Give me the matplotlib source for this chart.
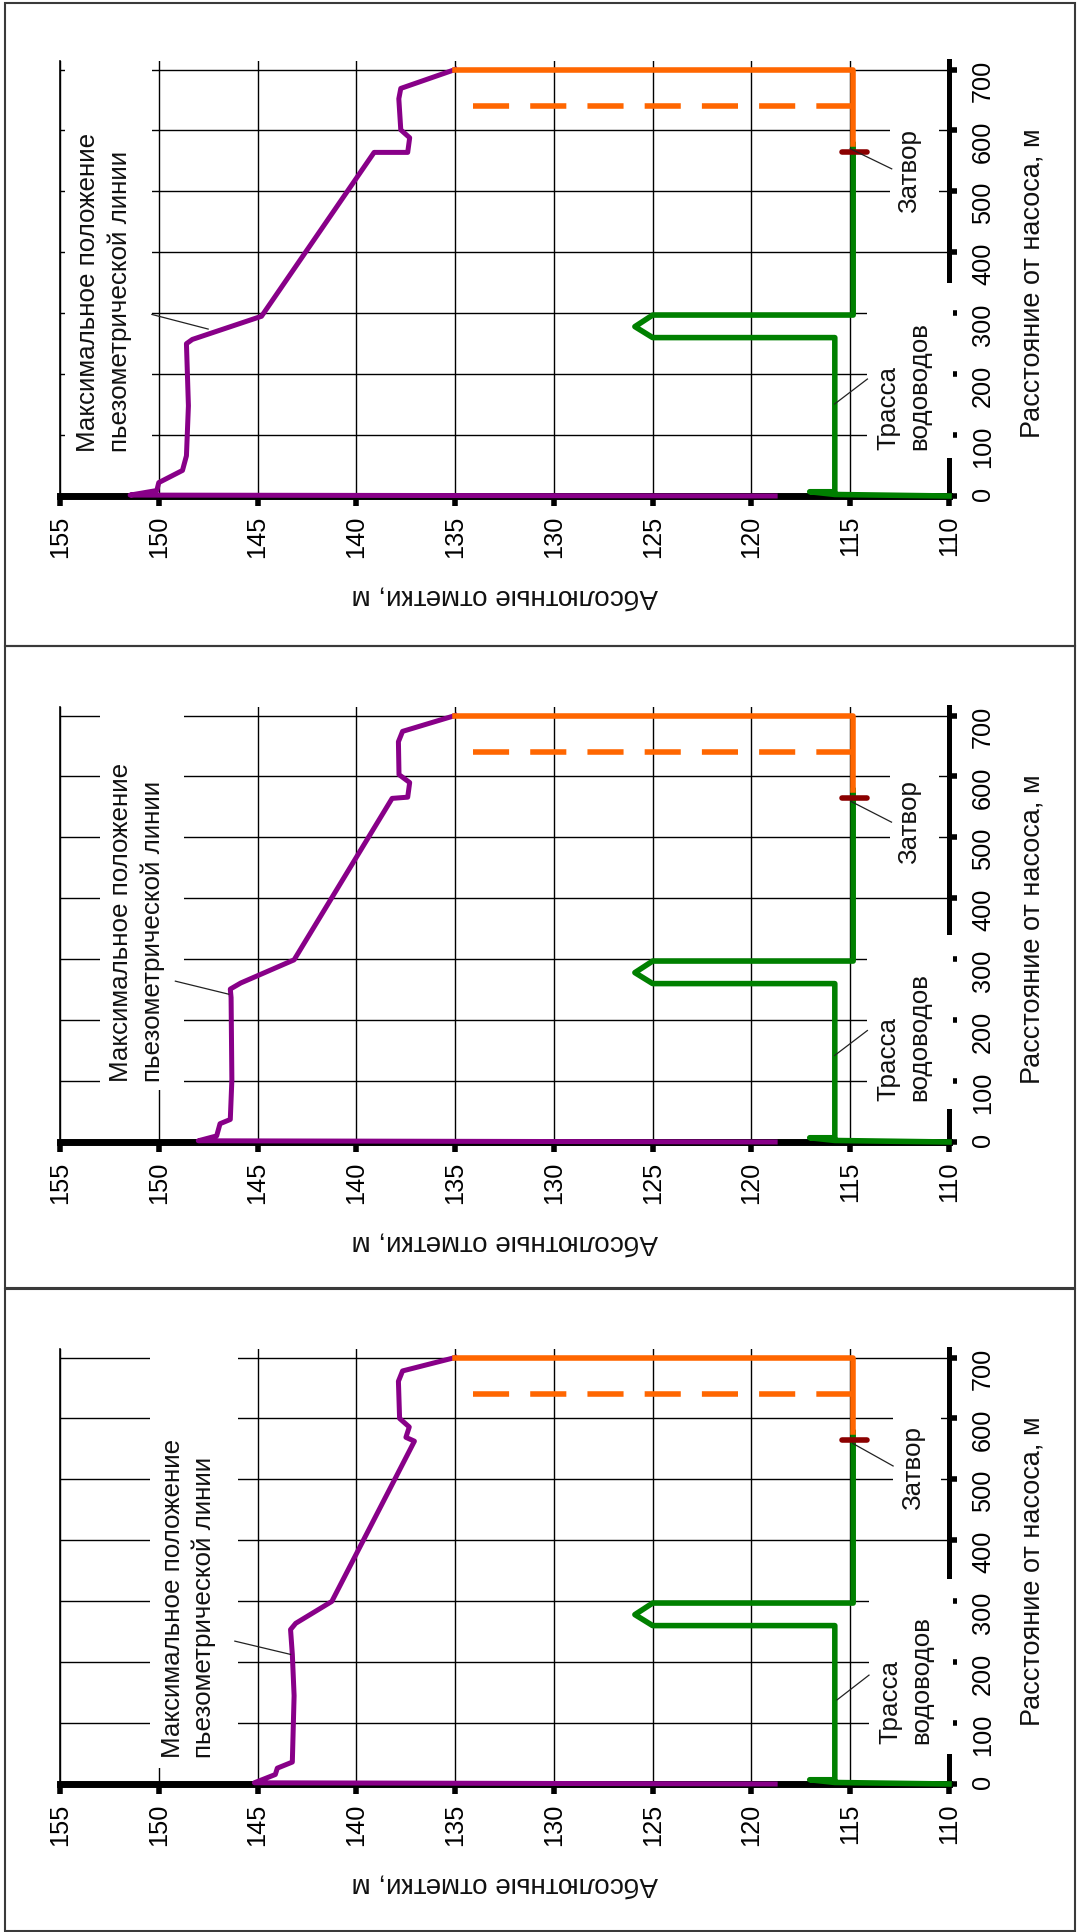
import matplotlib
matplotlib.use("Agg")
import matplotlib.pyplot as plt
from matplotlib.patches import Rectangle

plt.rcParams['font.family'] = ['Liberation Sans', 'DejaVu Sans']

# ---------------- data ----------------
elev_ticks = [155, 150, 145, 140, 135, 130, 125, 120, 115, 110]
dist_ticks = [0, 100, 200, 300, 400, 500, 600, 700]

# piezometric line (max position) for the three cases: distance (m), elevation (m)
piezo_dist_1 = [0, 1.5, 9, 22, 42, 66, 148, 250, 257, 295, 564, 564, 588, 601, 652, 669, 700]
piezo_elev_1 = [118.8, 151.45, 150.1, 150.0, 148.8, 148.6, 148.5, 148.6, 148.3, 144.8,
                139.1, 137.4, 137.3, 137.75, 137.85, 137.75, 135.0]

piezo_dist_2 = [0, 2, 10, 30, 37, 102, 237, 251, 261, 299, 564, 566, 590, 603, 657, 674, 700]
piezo_elev_2 = [118.8, 148.0, 147.07, 146.9, 146.38, 146.3, 146.34, 146.38, 145.85, 143.15,
                138.19, 137.4, 137.3, 137.84, 137.87, 137.66, 135.0]

piezo_dist_3 = [0, 2, 15.6, 26, 36, 145, 213, 253.5, 263.7, 299.7, 562.7, 569, 586, 600, 661, 678, 700]
piezo_elev_3 = [118.8, 145.16, 144.1, 144.0, 143.24, 143.15, 143.24, 143.33, 143.07, 141.24,
                137.06, 137.49, 137.32, 137.81, 137.87, 137.66, 135.0]

# pipeline route
route_dist = [0, 2.5, 7, 7, 260, 260, 278, 297, 297, 577]
route_elev = [110.0, 115.78, 117.05, 115.78, 115.78, 125.0, 125.9, 125.0, 114.85, 114.85]

# terminal section / reservoir (orange)
tank_dist = [577, 700, 700]
tank_elev = [114.85, 114.85, 135.0]
tank_dash_dist = [640, 640]
tank_dash_elev = [134.1, 114.85]

# gate
gate_dist = [565, 565]
gate_elev = [115.4, 114.15]

PURPLE = '#880088'
GREEN = '#008000'
ORANGE = '#FF6600'
GATE = '#8B0000'
TXT = '#111111'

W, H = 1080, 1932
fig = plt.figure(figsize=(W / 100, H / 100), dpi=100)

panels = [
    dict(pd=piezo_dist_1, pe=piezo_elev_1, top=3, bot=646, axb=496,
         lbox=(154.75, 150.35, 45, 714), ptxt=(152.77, 72), plead=((150.35, 298), (147.5, 274)),
         tbox=(114.15, 109.8, 62, 349), ttxt=(112.3, 76), tlead=((114.13, 192), (115.79, 151)),
         gbox=(113.0, 110.5, 450, 635), gtxt=(112.0, 465), glead=((112.9, 537), (115.0, 570))),
    dict(pd=piezo_dist_2, pe=piezo_elev_2, top=646, bot=1288, axb=1142,
         lbox=(153.0, 148.7, 85, 714), ptxt=(151.1, 98), plead=((149.16, 264), (146.46, 242.6)),
         tbox=(114.15, 109.8, 54, 339), ttxt=(112.3, 68), tlead=((114.13, 183), (115.79, 142)),
         gbox=(113.0, 110.5, 450, 635), gtxt=(112.0, 457), glead=((112.91, 525), (114.96, 559))),
    dict(pd=piezo_dist_3, pe=piezo_elev_3, top=1289, bot=1931, axb=1784,
         lbox=(150.42, 146.0, 26, 714), ptxt=(148.5, 42), plead=((146.15, 234.5), (143.33, 212.7)),
         tbox=(114.05, 109.8, 50, 336), ttxt=(112.2, 66), tlead=((114.05, 178.7), (115.67, 138)),
         gbox=(112.82, 110.4, 450, 635), gtxt=(111.8, 450), glead=((112.83, 522), (114.87, 559))),
]

AX_H = 435
ANN_FS = 18.7
for p in panels:
    # panel frame
    fig.add_artist(Rectangle((5 / W, 1 - p['bot'] / H), 1070 / W, (p['bot'] - p['top']) / H,
                             transform=fig.transFigure, fill=False, ec='#3a3a3a', lw=1.5))
    ax = fig.add_axes([60 / W, 1 - p['axb'] / H, 889 / W, AX_H / H])
    ax.set_xlim(155, 110)
    ax.set_ylim(0, 714)
    ax.set_xticks(elev_ticks)
    ax.set_yticks(dist_ticks)
    ax.yaxis.tick_right()
    ax.set_axisbelow(True)
    ax.grid(True, color='black', lw=1.0)
    ax.tick_params(axis='x', labelrotation=90, direction='out', length=7, width=4,
                   pad=7, labelsize=18.3, colors='black')
    ax.tick_params(axis='y', labelrotation=90, direction='out', length=6, width=4,
                   pad=10, labelsize=18.3, left=False, right=True, labelleft=False, labelright=True)
    ax.spines['top'].set_visible(False)
    ax.spines['left'].set_linewidth(1.2)
    ax.spines['bottom'].set_linewidth(5)
    ax.spines['right'].set_linewidth(3.6)
    for s in ax.spines.values():
        s.set_color('black')

    # white label boxes (cover grid / axis as in the original)
    for key in ('lbox', 'tbox', 'gbox'):
        z1, z2, d1, d2 = p[key]
        ax.add_patch(Rectangle((z1, d1), z2 - z1, d2 - d1, fc='white', ec='none',
                               zorder=2.6, clip_on=False))

    # data: horizontal = elevation, vertical = distance
    ax.plot(p['pe'], p['pd'], color=PURPLE, lw=3.6, zorder=3, clip_on=False,
            solid_joinstyle='round')
    ax.plot(route_elev, route_dist, color=GREEN, lw=4.0, zorder=3.1, clip_on=False)
    ax.plot(tank_elev, tank_dist, color=ORANGE, lw=4.0, zorder=3.2, clip_on=False)
    ax.plot(tank_dash_elev, tank_dash_dist, color=ORANGE, lw=4.0, zorder=3.2,
            dashes=(6.5, 3.8), clip_on=False)
    ax.plot(gate_elev, gate_dist, color=GATE, lw=4.0, zorder=3.5, solid_capstyle='round')

    # annotations
    for (a, b) in (p['plead'], p['tlead'], p['glead']):
        ax.plot([a[0], b[0]], [a[1], b[1]], color='#222222', lw=0.9, zorder=4, clip_on=False)
    ax.text(p['ptxt'][0], p['ptxt'][1], 'Максимальное положение\nпьезометрической линии',
            rotation=90, ha='center', va='bottom', multialignment='left', fontsize=ANN_FS,
            color=TXT, zorder=5, linespacing=1.36)
    ax.text(p['ttxt'][0], p['ttxt'][1], 'Трасса\nводоводов', rotation=90, ha='center',
            va='bottom', multialignment='left', fontsize=ANN_FS, color=TXT, zorder=5,
            linespacing=1.36)
    ax.text(p['gtxt'][0], p['gtxt'][1], 'Затвор', rotation=90, ha='center', va='bottom',
            fontsize=ANN_FS, color=TXT, zorder=5)

    # axis titles
    ax.text(0.5, -0.232, 'Абсолютные отметки, м', rotation=180, transform=ax.transAxes,
            ha='center', va='center', fontsize=20, color=TXT)
    ax.text(1.0934, 0.49, 'Расстояние от насоса, м', rotation=90, transform=ax.transAxes,
            ha='center', va='center', fontsize=19.5, color=TXT)

fig.savefig('out.png', dpi=100)
